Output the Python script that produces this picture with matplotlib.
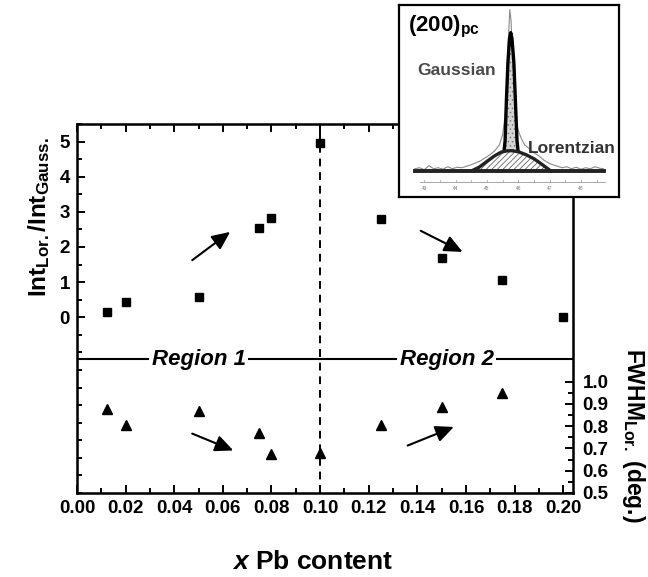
import numpy as np
import matplotlib
matplotlib.use("Agg")
import matplotlib.pyplot as plt
from matplotlib.ticker import FixedLocator, MultipleLocator, FormatStrFormatter

plt.rcParams["font.family"] = ["Liberation Sans", "DejaVu Sans"]
plt.rcParams["mathtext.fontset"] = "custom"
plt.rcParams["mathtext.rm"] = "Liberation Sans"
plt.rcParams["mathtext.bf"] = "Liberation Sans:bold"
plt.rcParams["mathtext.it"] = "Liberation Sans:italic:bold"
plt.rcParams["hatch.linewidth"] = 0.6

# main data: Pb content vs intensity ratio and Lorentzian FWHM
x_ratio = [0.0125, 0.02, 0.05, 0.075, 0.08, 0.10, 0.125, 0.15, 0.175, 0.20]
int_ratio = [0.14, 0.44, 0.58, 2.54, 2.83, 4.96, 2.81, 1.70, 1.06, 0.0]

x_fwhm = [0.0125, 0.02, 0.05, 0.075, 0.08, 0.10, 0.125, 0.15, 0.175]
fwhm_lor = [0.875, 0.805, 0.869, 0.768, 0.675, 0.68, 0.805, 0.884, 0.95]

ratio_ticks = [0, 1, 2, 3, 4, 5]
fwhm_ticks = [0.5, 0.6, 0.7, 0.8, 0.9, 1.0]
fwhm_minor = [0.55, 0.65, 0.75, 0.85, 0.95]

# inset: (200)pc peak, profiles (baseline = 0)
raw_2theta = [42.7, 42.85, 43.0, 43.15, 43.3, 43.45, 43.6, 43.75, 43.9, 44.05,
              44.2, 44.35, 44.5, 44.65, 44.8, 44.95, 45.1, 45.25, 45.4, 45.5,
              45.58, 45.64, 45.69, 45.73, 45.77, 45.81, 45.86, 45.92, 46.0, 46.1,
              46.2, 46.35, 46.5, 46.65, 46.8, 46.95, 47.1, 47.25, 47.4, 47.55,
              47.7, 47.85, 48.0, 48.15, 48.3, 48.45, 48.6, 48.72]
raw_int = [0.2, 0.3, 0.1, 0.5, 0.2, 0.3, 0.15, 0.4, 0.2, 0.35,
           0.3, 0.45, 0.6, 0.8, 1.0, 1.3, 1.6, 2.0, 2.6, 3.6,
           5.5, 9.0, 13.5, 16.1, 15.0, 11.5, 7.5, 5.0, 4.0, 3.2,
           2.6, 2.2, 1.8, 1.5, 1.1, 0.8, 0.6, 0.45, 0.3, 0.4,
           0.2, 0.35, 0.15, 0.3, 0.2, 0.4, 0.25, 0.2]

gauss_2theta = [45.40, 45.52, 45.58, 45.62, 45.67, 45.72, 45.76, 45.80, 45.86,
                45.91, 45.96, 46.02, 46.14]
gauss_int = [0.0, 1.2, 3.0, 6.9, 10.8, 13.2, 13.8, 13.2, 10.8, 6.9, 3.0, 1.2, 0.0]

lor_2theta = [44.52, 44.75, 45.0, 45.25, 45.45, 45.62, 45.8, 46.0, 46.25, 46.5,
              46.75, 47.03]
lor_int = [0.0, 0.35, 0.93, 1.5, 1.85, 1.98, 2.0, 1.9, 1.6, 1.2, 0.65, 0.0]

inset_ticks = [43, 44, 45, 46, 47, 48]

fig = plt.figure(figsize=(6.48, 5.77), dpi=100)
ax = fig.add_axes([0.1188, 0.1456, 0.7654, 0.6395])
ax.set_xlim(0, 0.204)
ax.set_ylim(-5.0, 5.5)

ax.plot(x_ratio, int_ratio, "s", color="black", ms=5.5, zorder=4)
ax.axvline(0.10, color="black", lw=1.4, ls=(0, (4, 3)), zorder=2)
ax.axhline(-1.2, color="black", lw=1.5, zorder=2)

ax.set_yticks(ratio_ticks)
ax.yaxis.set_minor_locator(FixedLocator(np.arange(-5.0, 5.51, 0.5)))
ax.xaxis.set_major_locator(MultipleLocator(0.02))
ax.xaxis.set_minor_locator(MultipleLocator(0.01))
ax.xaxis.set_major_formatter(FormatStrFormatter("%.2f"))
ax.tick_params(which="both", direction="in", width=1.4, top=True,
               labelsize=13.5)
ax.tick_params(which="major", length=6, pad=5)
ax.tick_params(which="minor", length=3.5)
for lab in ax.get_xticklabels() + ax.get_yticklabels():
    lab.set_fontweight("bold")
for sp in ax.spines.values():
    sp.set_linewidth(1.8)

ax2 = ax.twinx()
ax2.set_ylim(0.5, 2.155)
ax2.plot(x_fwhm, fwhm_lor, "^", color="black", ms=7.5, zorder=4)
ax2.set_yticks(fwhm_ticks)
ax2.set_yticklabels([f"{v:.1f}" for v in fwhm_ticks], fontweight="bold")
ax2.yaxis.set_minor_locator(FixedLocator(fwhm_minor))
ax2.tick_params(which="both", direction="in", width=1.4, labelsize=13.5)
ax2.tick_params(which="major", length=6, pad=7)
ax2.tick_params(which="minor", length=3.5)

for xr, txt in [(0.05, "Region 1"), (0.152, "Region 2")]:
    ax.text(xr, -1.2, txt, ha="center", va="center", fontsize=16,
            fontweight="bold", style="italic", zorder=5,
            bbox=dict(fc="white", ec="none", pad=2))

arrows = [((0.0474, 1.625), (0.063, 2.43)),
          ((0.1414, 2.46), (0.1586, 1.86)),
          ((0.0474, -3.31), (0.0643, -3.79)),
          ((0.136, -3.65), (0.155, -3.12))]
for start, end in arrows:
    ax.annotate("", xy=end, xytext=start,
                arrowprops=dict(arrowstyle="-|>,head_length=1.1,head_width=0.5",
                                color="black", lw=1.5, mutation_scale=10,
                                shrinkA=0, shrinkB=0))

fig.text(0.060, 0.624, r"$\mathbf{Int_{Lor.}/Int_{Gauss.}}$", rotation=90,
         ha="center", va="center", fontsize=17.5)
fig.text(0.978, 0.246, r"$\mathbf{FWHM_{Lor.}}$ (deg.)", rotation=270,
         ha="center", va="center", fontsize=16.5, fontweight="bold")
fig.text(0.483, 0.026, r"$x$ Pb content", ha="center",
         va="center", fontsize=19, fontweight="bold")

# inset with peak decomposition
axi = fig.add_axes([0.616, 0.659, 0.340, 0.333])
axi.set_xlim(42.2, 49.23)
axi.set_ylim(-2.6, 16.6)
axi.set_xticks([])
axi.set_yticks([])
for sp in axi.spines.values():
    sp.set_linewidth(1.6)

axi.plot(raw_2theta, raw_int, color="#8a8a8a", lw=0.8, zorder=1)
axi.fill_between(gauss_2theta, 0, gauss_int, facecolor="#d4d4d4",
                 edgecolor="#777777", hatch="....", lw=0, zorder=2)
axi.plot(gauss_2theta, gauss_int, color="black", lw=2.4, zorder=2.5)
axi.fill_between(lor_2theta, 0, lor_int, facecolor="white",
                 edgecolor="#666666", hatch="//////", lw=0, zorder=3)
axi.plot(lor_2theta, lor_int, color="#222222", lw=2.4, zorder=4)
axi.plot([42.7, 48.72], [0, 0], color="#222222", lw=2.8, zorder=5)

axi.plot([42.87, 48.78], [-1.17, -1.17], color="#999999", lw=0.6)
for t in np.arange(43.0, 48.6, 0.5):
    axi.plot([t, t], [-1.17, -0.95], color="#999999", lw=0.5)
for t in inset_ticks:
    axi.text(t, -1.75, str(t), ha="center", va="center", fontsize=3.5,
             color="#777777")

axi.text(42.49, 14.4, r"(200)$_{\mathbf{pc}}$", ha="left", va="center",
         fontsize=16, fontweight="bold")
axi.text(44.04, 10.0, "Gaussian", ha="center", va="center", fontsize=12.5,
         fontweight="bold", color="#4a4a4a")
axi.text(47.7, 2.25, "Lorentzian", ha="center", va="center", fontsize=12.5,
         fontweight="bold", color="#333333")

fig.savefig("out.png", dpi=100)
